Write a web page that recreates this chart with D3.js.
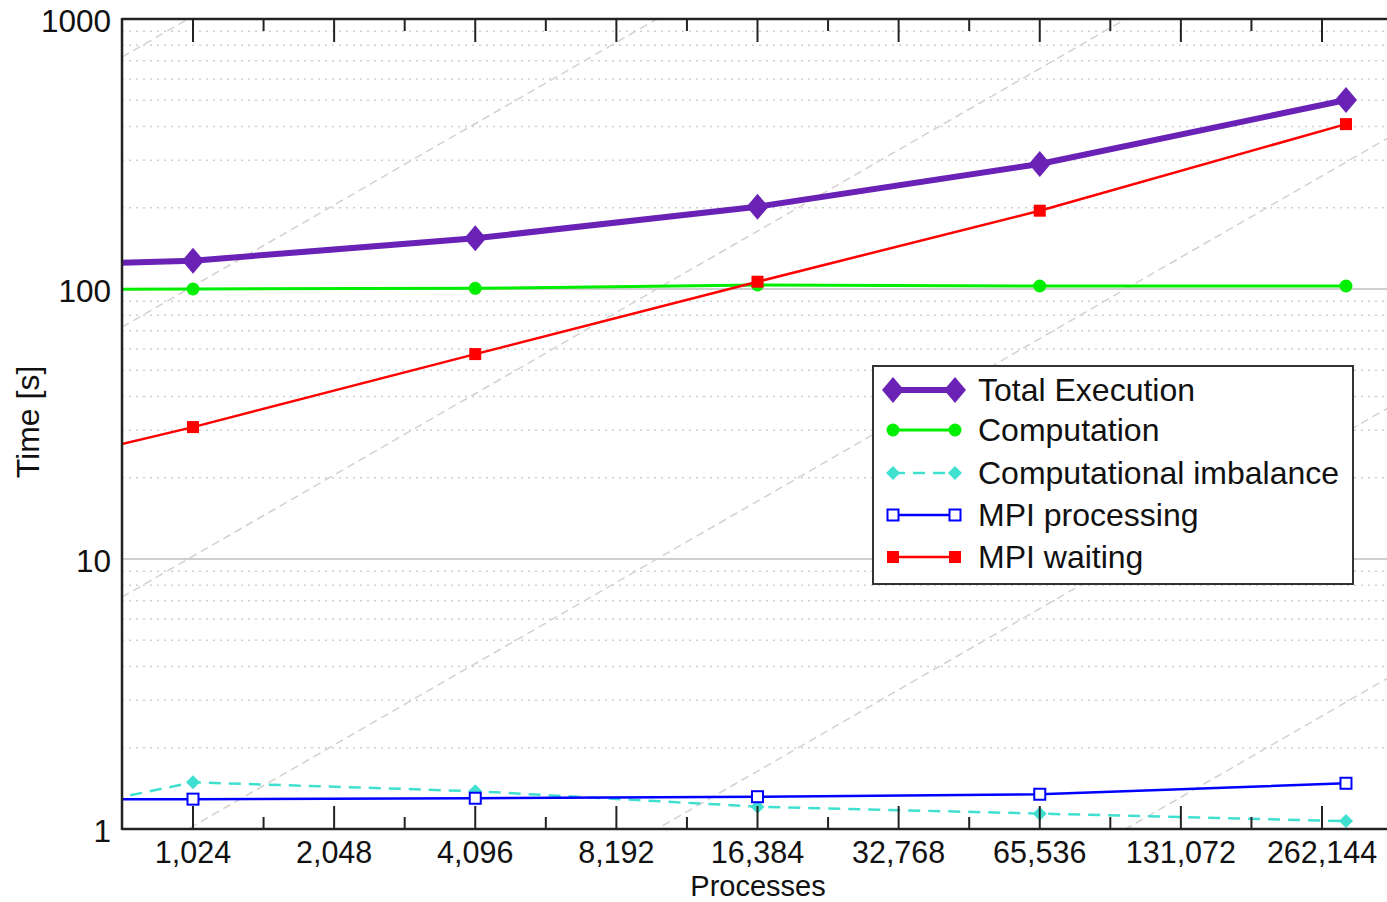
<!DOCTYPE html>
<html><head><meta charset="utf-8">
<script src="https://cdn.jsdelivr.net/npm/d3@7"></script>
<style>
html,body{margin:0;padding:0;background:#fff;}
svg{display:block;font-family:"Liberation Sans",Arial,sans-serif;}
</style></head>
<body>
<svg id="chart" width="1387" height="902"></svg>
<script>
// ---- data ----
const processes = [512, 1024, 4096, 16384, 65536, 294912];
const totalExecution = [122.7, 127.3, 154.1, 201.7, 290.4, 501];
const computation = [99.6, 100, 100.6, 103.5, 102.6, 102.6];
const computationalImbalance = [1.16, 1.49, 1.38, 1.21, 1.14, 1.07];
const mpiProcessing = [1.29, 1.29, 1.30, 1.317, 1.345, 1.477];
const mpiWaiting = [23.1, 30.8, 57.4, 106.4, 195, 408];
const xTickValues = [1024, 2048, 4096, 8192, 16384, 32768, 65536, 131072, 262144];
const yTickValues = [1, 10, 100, 1000];
const seriesNames = ["Total Execution", "Computation", "Computational imbalance", "MPI processing", "MPI waiting"];
const refLineExponents = [-3, -2, -1, 0, 1, 2, 3];

// ---- layout ----
const svg = d3.select("#chart");
const L = 122, R = 1387, T = 19, B = 829;
const x = d3.scaleLog().base(2).domain([1024, 262144]).range([193, 1322]);
const y = d3.scaleLog().domain([1, 1000]).range([B, T]);
const xMin = x.invert(L), xMax = x.invert(R);

svg.append("defs").append("clipPath").attr("id", "clip")
  .append("rect").attr("x", L).attr("y", T).attr("width", R - L).attr("height", B - T);

const plot = svg.append("g").attr("clip-path", "url(#clip)");

// minor horizontal dotted grid
const minorY = [];
for (let d = 1; d < 1000; d *= 10) for (let m = 2; m <= 9; m++) minorY.push(d * m);
plot.selectAll(".gmin").data(minorY).join("line")
  .attr("x1", L).attr("x2", R).attr("y1", d => y(d)).attr("y2", d => y(d))
  .attr("stroke", "#c9d2d2").attr("stroke-width", 1.5).attr("stroke-dasharray", "2,5");
// major horizontal grid
plot.selectAll(".gmaj").data(yTickValues).join("line")
  .attr("x1", L).attr("x2", R).attr("y1", d => y(d)).attr("y2", d => y(d))
  .attr("stroke", "#cfcfcf").attr("stroke-width", 2);

// reference diagonal lines  t = p/1000 * 10^k
plot.selectAll(".ref").data(refLineExponents).join("line")
  .attr("x1", x(xMin)).attr("y1", k => y(xMin / 1000 * Math.pow(10, k)))
  .attr("x2", x(xMax)).attr("y2", k => y(xMax / 1000 * Math.pow(10, k)))
  .attr("stroke", "#d6d0d0").attr("stroke-width", 1.5).attr("stroke-dasharray", "8,5");

// series
const series = [
  {name: seriesNames[0], vals: totalExecution, color: "#6a22b6", width: 6, dash: null, marker: "bigdiamond"},
  {name: seriesNames[1], vals: computation, color: "#00ee00", width: 3, dash: null, marker: "circle"},
  {name: seriesNames[2], vals: computationalImbalance, color: "#40e0d0", width: 2.5, dash: "12,8", marker: "diamond"},
  {name: seriesNames[3], vals: mpiProcessing, color: "#0000ff", width: 2.5, dash: null, marker: "hollowsquare"},
  {name: seriesNames[4], vals: mpiWaiting, color: "#ff0000", width: 2.5, dash: null, marker: "square"}
];

function drawMarker(g, type, color, cx, cy) {
  if (type === "bigdiamond") {
    g.append("path").attr("d", `M${cx},${cy-13}L${cx+11},${cy}L${cx},${cy+13}L${cx-11},${cy}Z`).attr("fill", color);
  } else if (type === "diamond") {
    g.append("path").attr("d", `M${cx},${cy-7}L${cx+7},${cy}L${cx},${cy+7}L${cx-7},${cy}Z`).attr("fill", color);
  } else if (type === "circle") {
    g.append("circle").attr("cx", cx).attr("cy", cy).attr("r", 6.5).attr("fill", color);
  } else if (type === "square") {
    g.append("rect").attr("x", cx - 6).attr("y", cy - 6).attr("width", 12).attr("height", 12).attr("fill", color);
  } else if (type === "hollowsquare") {
    g.append("rect").attr("x", cx - 5.5).attr("y", cy - 5.5).attr("width", 11).attr("height", 11)
      .attr("fill", "#fff").attr("stroke", color).attr("stroke-width", 2);
  }
}

const line = d3.line().x(d => x(d[0])).y(d => y(d[1]));
series.forEach(s => {
  const pts = processes.map((p, i) => [p, s.vals[i]]);
  const g = plot.append("g");
  g.append("path").attr("d", line(pts)).attr("fill", "none").attr("stroke", s.color)
    .attr("stroke-width", s.width).attr("stroke-dasharray", s.dash).attr("stroke-linejoin", "round");
  pts.forEach(p => drawMarker(g, s.marker, s.color, x(p[0]), y(p[1])));
});

// ticks top/bottom (inward)
const majorX = xTickValues;
const minorX = xTickValues.map(v => v * Math.SQRT2);
const tickG = svg.append("g").attr("stroke", "#222").attr("stroke-width", 2);
majorX.forEach(v => {
  tickG.append("line").attr("x1", x(v)).attr("x2", x(v)).attr("y1", B).attr("y2", B - 23);
  tickG.append("line").attr("x1", x(v)).attr("x2", x(v)).attr("y1", T).attr("y2", T + 23);
});
minorX.forEach(v => {
  if (x(v) > R) return;
  tickG.append("line").attr("x1", x(v)).attr("x2", x(v)).attr("y1", B).attr("y2", B - 12);
  tickG.append("line").attr("x1", x(v)).attr("x2", x(v)).attr("y1", T).attr("y2", T + 12);
});

// frame
svg.append("line").attr("x1", L).attr("x2", L).attr("y1", T - 1).attr("y2", B + 1).attr("stroke", "#222").attr("stroke-width", 2.5);
svg.append("line").attr("x1", L).attr("x2", R).attr("y1", B).attr("y2", B).attr("stroke", "#222").attr("stroke-width", 2.5);
svg.append("line").attr("x1", L).attr("x2", R).attr("y1", T).attr("y2", T).attr("stroke", "#222").attr("stroke-width", 2.5);

// tick labels
const fmt = d3.format(",");
svg.append("g").selectAll("text").data(xTickValues).join("text")
  .attr("x", d => x(d)).attr("y", 863).attr("text-anchor", "middle")
  .attr("font-size", 30.5).attr("fill", "#111").text(d => fmt(d));
svg.append("g").selectAll("text").data(yTickValues).join("text")
  .attr("x", 111).attr("y", d => y(d) + 13).attr("text-anchor", "end")
  .attr("font-size", 31.5).attr("fill", "#111").text(d => d);

// axis titles
svg.append("text").attr("x", 758).attr("y", 895.5).attr("text-anchor", "middle")
  .attr("font-size", 29).attr("fill", "#111").text("Processes");
svg.append("text").attr("transform", "translate(39,422) rotate(-90)").attr("text-anchor", "middle")
  .attr("font-size", 32).attr("fill", "#111").text("Time [s]");

// legend
const lg = svg.append("g");
lg.append("rect").attr("x", 873).attr("y", 366).attr("width", 480).attr("height", 218)
  .attr("fill", "#fff").attr("stroke", "#333").attr("stroke-width", 2);
const rowY = [390, 430, 473, 515, 557];
series.forEach((s, i) => {
  const yy = rowY[i];
  lg.append("line").attr("x1", 893).attr("x2", 955).attr("y1", yy).attr("y2", yy)
    .attr("stroke", s.color).attr("stroke-width", s.width).attr("stroke-dasharray", s.dash);
  drawMarker(lg, s.marker, s.color, 893, yy);
  drawMarker(lg, s.marker, s.color, 955, yy);
  lg.append("text").attr("x", 978).attr("y", yy + 11).attr("font-size", 32).attr("fill", "#111").text(s.name);
});
</script>
</body></html>
